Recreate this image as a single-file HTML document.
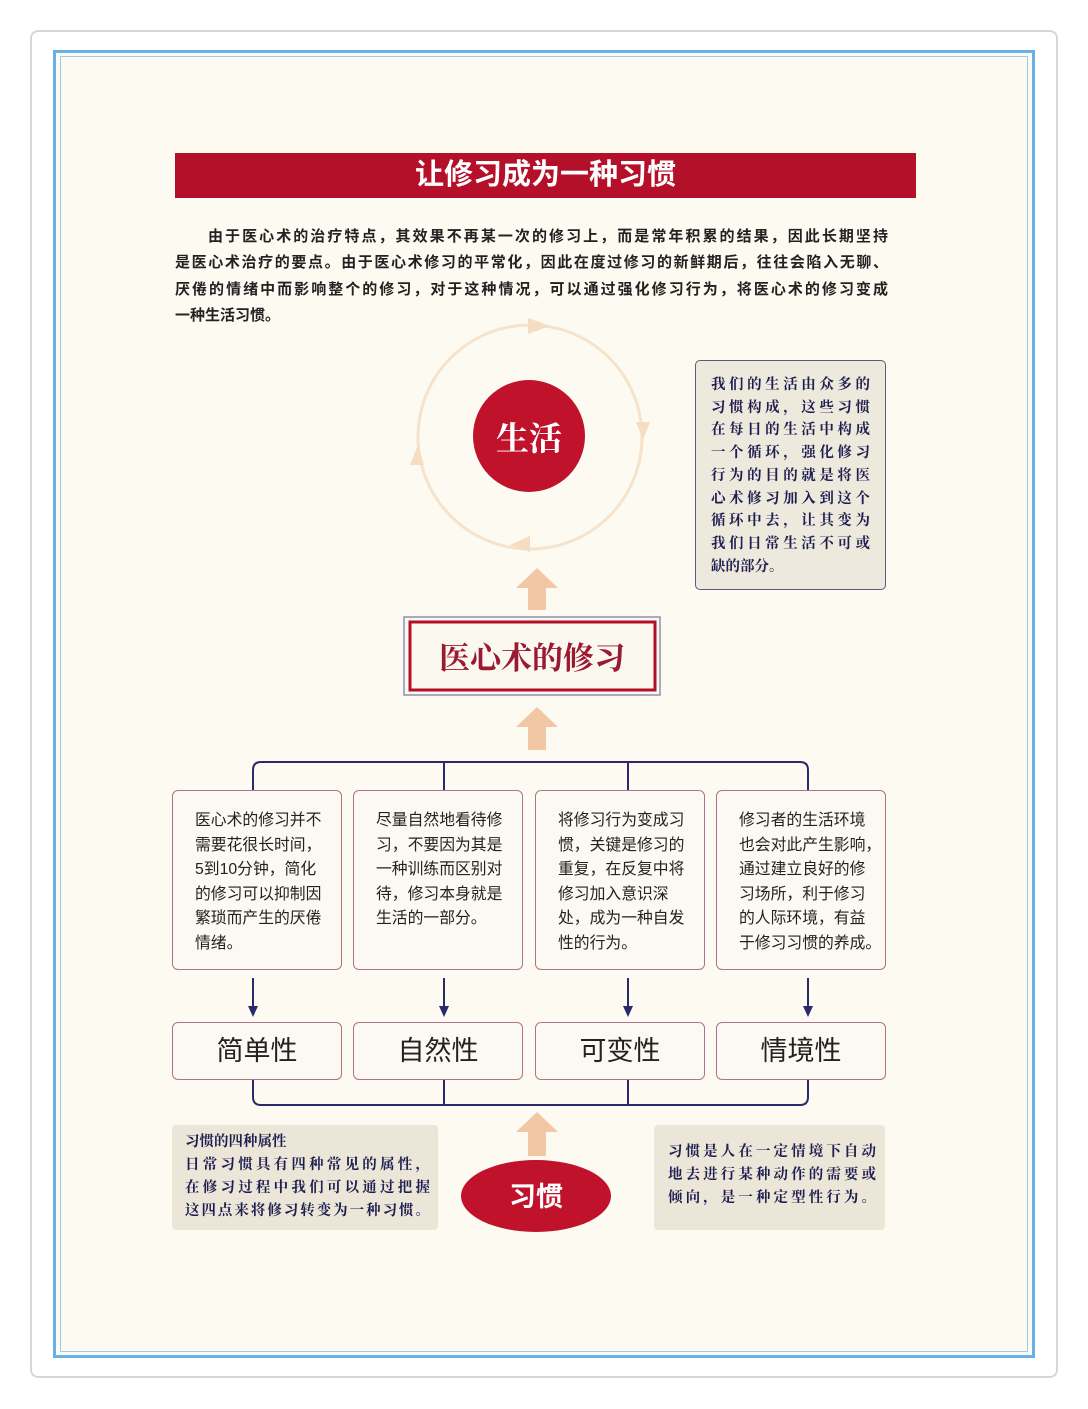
<!DOCTYPE html>
<html><head><meta charset="utf-8"><style>
*{margin:0;padding:0;box-sizing:border-box}
body{width:1088px;height:1409px;background:#fff;position:relative;font-family:"Liberation Sans","Noto Sans CJK SC",sans-serif;overflow:hidden}
.a{position:absolute}
.frame{left:30px;top:30px;width:1028px;height:1348px;border:2px solid #d6d6d6;border-radius:8px}
.blue{left:53px;top:50px;width:982px;height:1308px;border:3px solid #6ab0e8;background:#fcfaf1}
.blue2{left:60px;top:56px;width:968px;height:1296px;border:1px solid #9cc8ec}
.title{left:175px;top:153px;width:741px;height:45px;background:#b5102a;color:#fff;font-weight:bold;font-size:29px;text-align:center;line-height:45px}
.p{left:175px;top:224px;width:713px;font-size:15px;line-height:26.3px;color:#222;font-weight:bold}
.j div,.p div{text-align:justify;text-align-last:justify;white-space:nowrap}
.rb{background:#ede9dd;border:1.5px solid #5a5a80;border-radius:5px;color:#1e1e50;font-family:"Noto Serif CJK SC",serif;font-weight:bold}
.box{border:1.5px solid #b07090;border-radius:6px;background:#fcf9f2;font-size:15.8px;line-height:24.5px;color:#222;padding:18px 0 0 22px;white-space:nowrap}
.lab{border:1.5px solid #b07090;border-radius:6px;background:#fcf9f2;font-size:27px;line-height:56px;text-align:center;color:#222}
.gb{background:#ebe6d8;border-radius:4px;color:#1e1e50;font-family:"Noto Serif CJK SC",serif;font-weight:bold;font-size:14.5px}
</style></head><body>
<div class="a frame"></div>
<div class="a blue"></div>
<div class="a blue2"></div>
<div class="a title">让修习成为一种习惯</div>
<div class="a p">
<div style="padding-left:33px">由于医心术的治疗特点，其效果不再某一次的修习上，而是常年积累的结果，因此长期坚持</div>
<div>是医心术治疗的要点。由于医心术修习的平常化，因此在度过修习的新鲜期后，往往会陷入无聊、</div>
<div>厌倦的情绪中而影响整个的修习，对于这种情况，可以通过强化修习行为，将医心术的修习变成</div>
<div style="text-align-last:left">一种生活习惯。</div>
</div>
<svg class="a" style="left:0;top:0" width="1088" height="1409">
<g fill="none" stroke="#f6e3cc" stroke-width="3">
<circle cx="530" cy="437" r="112"/>
</g>
<g fill="#f5dcc2">
<polygon points="528,318 550,326 528,334"/>
<polygon points="636,422 650,422 643,440"/>
<polygon points="530,536 510,545 530,552"/>
<polygon points="410,465 424,465 418,445"/>
</g>
<circle cx="529" cy="436" r="56" fill="#c0122a"/>
<text x="529" y="450" fill="#fff" font-size="33" font-weight="bold" text-anchor="middle" font-family="Noto Serif CJK SC,serif">生活</text>
<g fill="#f2c8a4">
<polygon points="537,568 558,588 546,588 546,610 528,610 528,588 516,588"/>
<polygon points="537,707 558,727 546,727 546,750 528,750 528,727 516,727"/>
<polygon points="537,1112 558,1132 546,1132 546,1156 528,1156 528,1132 516,1132"/>
</g>
<rect x="404" y="617" width="256" height="78" fill="#fbf8f0" stroke="#9090b0" stroke-width="1.5"/>
<rect x="410" y="622" width="245" height="68" fill="none" stroke="#b5102a" stroke-width="3"/>
<text x="532" y="669" fill="#9a1a30" font-size="31" font-weight="bold" text-anchor="middle" font-family="Noto Serif CJK SC,serif">医心术的修习</text>
<g fill="none" stroke="#2a2a6a" stroke-width="2">
<path d="M253 790 V770 Q253 762 261 762 H800 Q808 762 808 770 V790"/>
<path d="M444 762 V790 M628 762 V790"/>
<path d="M253 1080 V1097 Q253 1105 261 1105 H800 Q808 1105 808 1097 V1080"/>
<path d="M444 1080 V1105 M628 1080 V1105"/>
<path d="M253 978 V1008 M444 978 V1008 M628 978 V1008 M808 978 V1008"/>
</g>
<g fill="#2a2a6a">
<polygon points="248,1006 258,1006 253,1017"/>
<polygon points="439,1006 449,1006 444,1017"/>
<polygon points="623,1006 633,1006 628,1017"/>
<polygon points="803,1006 813,1006 808,1017"/>
</g>
<ellipse cx="536" cy="1196" rx="75" ry="36" fill="#c0122a"/>
<text x="536" y="1206" fill="#fff" font-size="27" font-weight="bold" text-anchor="middle">习惯</text>
</svg>
<div class="a rb j" style="left:695px;top:360px;width:191px;height:230px;font-size:14.5px;line-height:22.7px;padding:12px 15px 0 15px">
<div>我们的生活由众多的</div><div>习惯构成，这些习惯</div><div>在每日的生活中构成</div><div>一个循环，强化修习</div><div>行为的目的就是将医</div><div>心术修习加入到这个</div><div>循环中去，让其变为</div><div>我们日常生活不可或</div><div style="text-align-last:left">缺的部分。</div></div>
<div class="a box" style="left:172px;top:790px;width:170px;height:180px">医心术的修习并不<br>需要花很长时间，<br>5到10分钟，简化<br>的修习可以抑制因<br>繁琐而产生的厌倦<br>情绪。</div>
<div class="a box" style="left:353px;top:790px;width:170px;height:180px">尽量自然地看待修<br>习，不要因为其是<br>一种训练而区别对<br>待，修习本身就是<br>生活的一部分。</div>
<div class="a box" style="left:535px;top:790px;width:170px;height:180px">将修习行为变成习<br>惯，关键是修习的<br>重复，在反复中将<br>修习加入意识深<br>处，成为一种自发<br>性的行为。</div>
<div class="a box" style="left:716px;top:790px;width:170px;height:180px">修习者的生活环境<br>也会对此产生影响，<br>通过建立良好的修<br>习场所，利于修习<br>的人际环境，有益<br>于修习习惯的养成。</div>
<div class="a lab" style="left:172px;top:1022px;width:170px;height:58px">简单性</div>
<div class="a lab" style="left:353px;top:1022px;width:170px;height:58px">自然性</div>
<div class="a lab" style="left:535px;top:1022px;width:170px;height:58px">可变性</div>
<div class="a lab" style="left:716px;top:1022px;width:170px;height:58px">情境性</div>
<div class="a gb j" style="left:172px;top:1125px;width:266px;height:105px;padding:4px 8px 0 13px;line-height:23px"><div style="text-align-last:left">习惯的四种属性</div><div>日常习惯具有四种常见的属性，</div><div>在修习过程中我们可以通过把握</div><div>这四点来将修习转变为一种习惯。</div></div>
<div class="a gb j" style="left:654px;top:1125px;width:231px;height:105px;padding:14px 9px 0 14px;line-height:23px"><div>习惯是人在一定情境下自动</div><div>地去进行某种动作的需要或</div><div>倾向，是一种定型性行为。</div></div>
</body></html>
